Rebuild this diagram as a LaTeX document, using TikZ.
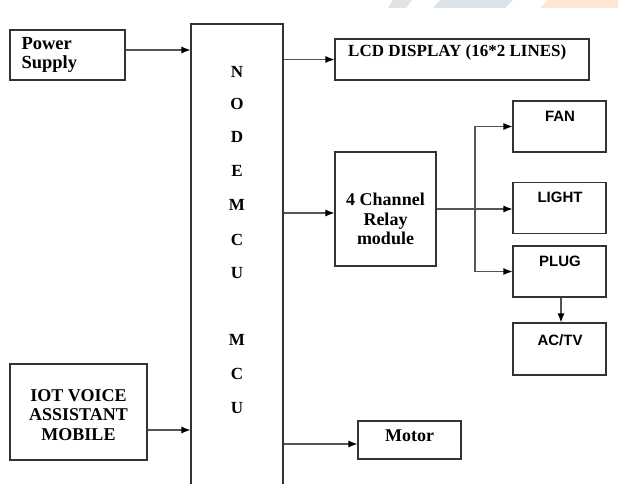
\documentclass[tikz,border=0pt]{standalone}
\usepackage{fontspec}
\setmainfont{Liberation Serif}
\newfontfamily\labelsans{Liberation Sans}
\usetikzlibrary{arrows.meta,positioning,calc}
\definecolor{boxline}{HTML}{333333}
\definecolor{wire}{HTML}{555555}
\definecolor{markgrey}{HTML}{DDE3E7}
\definecolor{markorange}{HTML}{FFE6D2}

\begin{document}
\begin{tikzpicture}[x=1pt,y=-1pt,
    blk/.style={draw=boxline,line width=1.1pt,inner sep=0pt,align=center,
                font=\fontsize{18}{19.5}\selectfont\bfseries},
    txt/.style={inner sep=0pt,align=center,font=\fontsize{18}{19.5}\selectfont\bfseries},
    dev/.style={draw=boxline,line width=1.1pt,inner sep=0pt,minimum width=93,minimum height=51},
    conn/.style={draw=wire,line width=1.1pt,-{Latex[length=9pt,width=7pt,color=black]}}]
  \clip (0,0) rectangle (618,484);
  % faint watermark at the top edge
  \fill[markgrey] (393,0) -- (412,0) -- (406,8) -- (388,8) -- cycle;
  \fill[markgrey] (440,0) -- (513,0) -- (505,8) -- (433,8) -- cycle;
  \fill[markorange] (548,0) -- (618,0) -- (618,8) -- (540,8) -- cycle;

  % inputs
  \node[blk,minimum width=115,minimum height=50,text width=92,align=left,
        font=\fontsize{18.5}{19}\selectfont\bfseries] (pwr) at (67.5,55) {Power\\Supply};
  \node[blk,minimum width=137,minimum height=96] (iot) at (78.5,412) {};
  \node[txt] (iottxt) at (78.5,415) {IOT VOICE\\ASSISTANT\\MOBILE};

  % controller
  \node[draw=boxline,line width=1.1pt,minimum width=92,minimum height=476] (mcu) at (237,262) {};
  \foreach \l/\y in {N/72,O/104,D/137,E/171,M/205,C/240,U/273,M/340,C/374,U/408}
    \node[font=\fontsize{17}{17}\selectfont\bfseries] (ltr\y) at (237,\y) {\l};

  % outputs
  \node[blk,minimum width=254,minimum height=41] (lcd) at (462,59.5) {};
  \node[anchor=west,inner sep=0pt,font=\fontsize{17}{17}\selectfont\bfseries] (lcdtxt) at (348,52) {LCD DISPLAY (16*2 LINES)};
  \node[blk,minimum width=101,minimum height=114] (relay) at (385.5,209) {};
  \node[txt] (relaytxt) at (385.5,219) {4 Channel\\Relay\\module};
  \node[blk,minimum width=103,minimum height=38] (motor) at (409.5,440) {};
  \node[txt] (motortxt) at (409.5,436) {Motor};

  % loads
  \node[dev] (fan) at (559.5,126.5) {};
  \node[dev] (light) at (559.5,208) {};
  \node[dev] (plug) at (559.5,271.5) {};
  \node[dev,minimum height=52] (actv) at (559.5,349) {};
  \foreach \n/\t/\y in {fan/FAN/116,light/LIGHT/197,plug/PLUG/261,actv/{AC/TV}/340}
    \node[inner sep=0pt,font=\labelsans\fontsize{15}{15}\selectfont\bfseries] (\n txt) at (560,\y) {\t};

  % connections
  \draw[conn] ([yshift=5pt]pwr.east) -- ([yshift=5pt]pwr.east -| mcu.west);
  \draw[conn] ([yshift=-18pt]iot.east) -- ([yshift=-18pt]iot.east -| mcu.west);
  \draw[conn] (mcu.east |- lcd) -- (lcd.west);
  \draw[conn] ([yshift=-4pt]mcu.east |- relay) -- ([yshift=-4pt]relay.west);
  \draw[conn] ([yshift=-4pt]mcu.east |- motor) -- ([yshift=-4pt]motor.west);
  \coordinate (bus) at (475,209);
  \draw[conn] (relay.east) -- (relay.east -| light.west);
  \draw[conn] (bus) |- (fan.west);
  \draw[conn] (bus) |- (plug.west);
  \draw[conn] ([xshift=1.5pt]plug.south) -- ([xshift=1.5pt]actv.north);
\end{tikzpicture}
\end{document}
